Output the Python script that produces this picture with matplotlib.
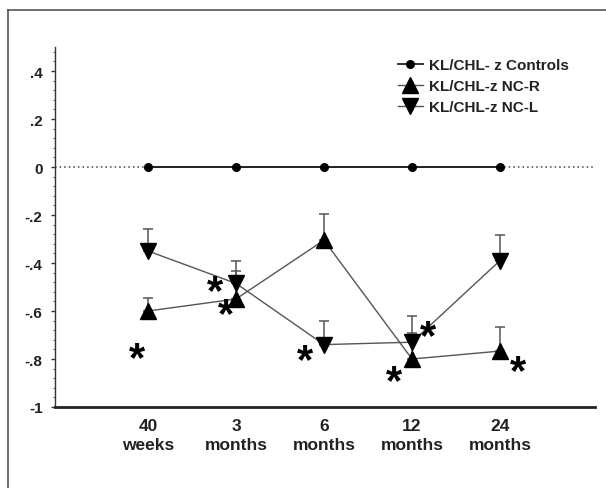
import matplotlib
matplotlib.use("Agg")
import matplotlib.pyplot as plt
from matplotlib.lines import Line2D
from matplotlib.ticker import MultipleLocator

plt.rcParams['font.family'] = ['Liberation Sans', 'DejaVu Sans']

categories = ["40\nweeks", "3\nmonths", "6\nmonths", "12\nmonths", "24\nmonths"]
controls = [0, 0, 0, 0, 0]
ncr = [-0.60, -0.55, -0.305, -0.80, -0.767]
ncr_err = [0.055, 0.115, 0.11, 0.11, 0.10]
ncl = [-0.35, -0.485, -0.74, -0.73, -0.39]
ncl_err = [0.09, 0.095, 0.10, 0.11, 0.105]
labels = ["KL/CHL- z Controls", "KL/CHL-z NC-R", "KL/CHL-z NC-L"]
yticks = [0.4, 0.2, 0, -0.2, -0.4, -0.6, -0.8, -1]
ytick_labels = [".4", ".2", "0", "-.2", "-.4", "-.6", "-.8", "-1"]
# significance asterisks (x index, y value)
star_x = [-0.125, 0.76, 0.886, 1.784, 2.795, 3.18, 4.205]
star_y = [-0.755, -0.477, -0.573, -0.763, -0.85, -0.663, -0.81]

fig = plt.figure(figsize=(6.06, 4.89), dpi=100)
ax = fig.add_axes([55/606, 1-408/489, (595-55)/606, (408-48)/489])

x = list(range(len(categories)))
lc = '#555555'

ax.axhline(0, color='#444444', linestyle=(0, (1, 2)), linewidth=1.1, zorder=1)

ax.errorbar(x, ncr, yerr=[[0]*5, ncr_err], fmt='none', ecolor=lc, elinewidth=1.1,
            capsize=3.5, capthick=1.1, zorder=2)
ax.errorbar(x, ncl, yerr=[[0]*5, ncl_err], fmt='none', ecolor=lc, elinewidth=1.1,
            capsize=3.5, capthick=1.1, zorder=2)

ax.plot(x, controls, color='#222222', linewidth=1.4, marker='o', markersize=5.5,
        markerfacecolor='black', markeredgecolor='black', zorder=3)
ax.plot(x, ncr, color=lc, linewidth=1.0, marker='^', markersize=11,
        markerfacecolor='black', markeredgecolor='black', zorder=3)
ax.plot(x, ncl, color=lc, linewidth=1.0, marker='v', markersize=11,
        markerfacecolor='black', markeredgecolor='black', zorder=3)

for sx, sy in zip(star_x, star_y):
    ax.text(sx, sy - 0.045, "*", fontsize=30, fontweight='bold', ha='center',
            va='center', color='black', zorder=4)

ax.set_xlim(-1.057, 5.08)
ax.set_ylim(-1, 0.5)
ax.set_xticks(x)
ax.set_xticklabels(categories, fontsize=12.5, fontweight='bold', color='#222222',
                   linespacing=1.3)
ax.tick_params(axis='x', length=0, pad=8)
ax.set_yticks(yticks)
ax.set_yticklabels(ytick_labels, fontsize=11, fontweight='bold', color='#222222')
ax.yaxis.set_minor_locator(MultipleLocator(0.04))
ax.tick_params(axis='y', which='major', length=3, width=1, direction='out', color='#333333', pad=6)
ax.tick_params(axis='y', which='minor', length=1.5, width=0.8, direction='out', color='#555555')

for s in ['top', 'right']:
    ax.spines[s].set_visible(False)
ax.spines['left'].set_color('#333333')
ax.spines['left'].set_linewidth(1.0)
ax.spines['bottom'].set_color('#222222')
ax.spines['bottom'].set_linewidth(2.0)

handles = [
    Line2D([], [], color='#222222', lw=1.3, marker='o', markersize=5.5, markerfacecolor='black', markeredgecolor='black'),
    Line2D([], [], color=lc, lw=1.0, marker='^', markersize=11, markerfacecolor='black', markeredgecolor='black'),
    Line2D([], [], color=lc, lw=1.0, marker='v', markersize=11, markerfacecolor='black', markeredgecolor='black'),
]
leg = ax.legend(handles, labels, loc='upper left', bbox_to_anchor=(392/606, 1-53/489),
                bbox_transform=fig.transFigure, frameon=False, handlelength=1.6,
                handletextpad=0.4, labelspacing=0.45, borderaxespad=0,
                prop={'family': 'Liberation Sans', 'weight': 'bold', 'size': 11})
for t in leg.get_texts():
    t.set_color('#222222')

# figure frame (top and left edges)
fig.add_artist(Line2D([8/606, 1], [1-11/489, 1-11/489], transform=fig.transFigure, color='#555555', lw=1.2))
fig.add_artist(Line2D([8/606, 8/606], [0, 1-11/489], transform=fig.transFigure, color='#555555', lw=1.2))

fig.savefig("out.png", dpi=100)
